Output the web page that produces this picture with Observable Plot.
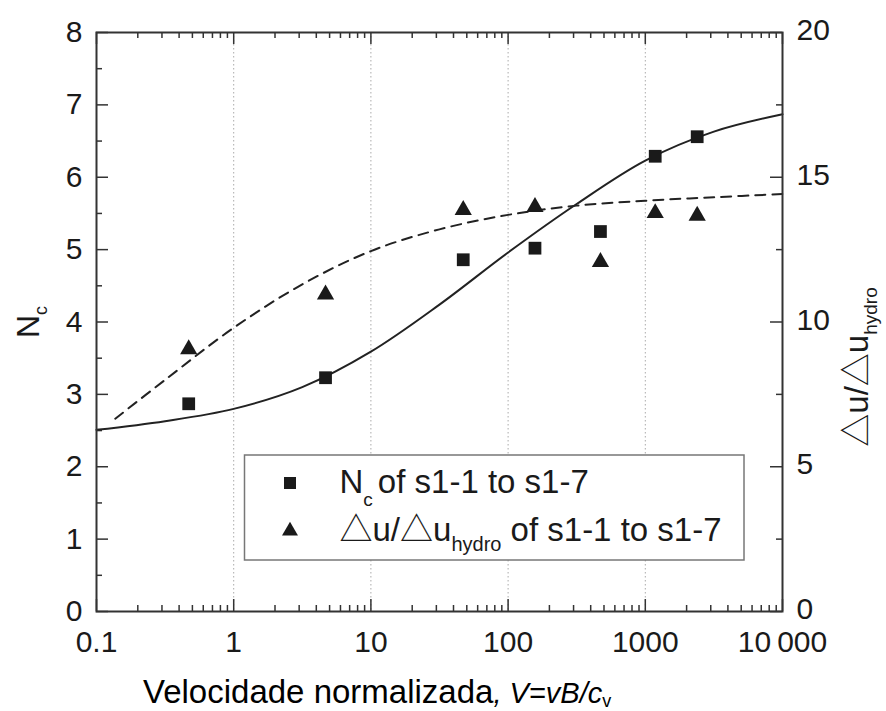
<!DOCTYPE html>
<html><head><meta charset="utf-8">
<script src="https://cdn.jsdelivr.net/npm/d3@7"></script>
<script src="https://cdn.jsdelivr.net/npm/@observablehq/plot@0.6"></script>
<style>
body{margin:0;background:#fff;}
#chart{position:relative;width:886px;height:711px;}
</style></head><body><div id="chart"></div>
<script>
// ---- data ----
const velocity = [0.47, 4.67, 47.1, 157, 471, 1181, 2389];
const ncValues = [2.87, 3.23, 4.86, 5.02, 5.25, 6.29, 6.56];
const duValues = [9.06, 10.95, 13.87, 13.97, 12.07, 13.76, 13.67];
const ncFitX = [0.1, 0.316, 1, 3.16, 10, 31.6, 100, 316, 1000, 3162, 10000];
const ncFitY = [2.51, 2.63, 2.80, 3.10, 3.59, 4.24, 4.96, 5.63, 6.23, 6.63, 6.87];
const duFitX = [0.137, 0.316, 1, 3.16, 10, 31.6, 100, 316, 1000, 3162, 10000];
const duFitY = [6.66, 8.0, 9.8, 11.3, 12.45, 13.2, 13.7, 14.02, 14.19, 14.31, 14.42];
const xTicks = [0.1, 1, 10, 100, 1000, 10000];
const xTickLabels = ["0.1", "1", "10", "100", "1000", "10\u2009000"];
const gridX = [1, 10, 100, 1000];
const leftTicks = [0, 1, 2, 3, 4, 5, 6, 7, 8];
const leftMinor = [0.5, 1.5, 2.5, 3.5, 4.5, 5.5, 6.5, 7.5];
const rightTicks = [0, 5, 10, 15, 20];
const rightMinor = [2.5, 7.5, 12.5, 17.5];
const leftMax = 8, rightMax = 20;

// ---- layout ----
const W = 886, H = 711, mL = 96, mR = 104, mT = 32, mB = 100;
const plotW = W - mL - mR, plotH = H - mT - mB;
const ratio = rightMax / leftMax;
const ink = "#1a1a1a";
const font = "'Liberation Sans', Arial, sans-serif";
const triFont = "'Noto Sans CJK SC', 'DejaVu Sans', sans-serif";
const tickFs = 30;

const xMinor = [];
for (let k = -1; k < 4; k++) for (let m = 2; m <= 9; m++) xMinor.push(m * Math.pow(10, k));

const points = velocity.map((v, i) => ({v, nc: ncValues[i], du: duValues[i]}));
const ncFit = ncFitX.map((x, i) => ({x, y: ncFitY[i]}));
const duFit = duFitX.map((x, i) => ({x, y: duFitY[i]}));
const tickLabel = new Map(xTicks.map((t, i) => [t, xTickLabels[i]]));

const svg = Plot.plot({
  width: W, height: H,
  marginLeft: mL, marginRight: mR, marginTop: mT, marginBottom: mB,
  style: {fontFamily: font, color: ink, background: "#fff"},
  x: {type: "log", domain: [0.1, 10000]},
  y: {domain: [0, leftMax]},
  marks: [
    Plot.ruleX(gridX, {x: d => d, stroke: "#aaa", strokeWidth: 1, strokeDasharray: "1.5,2.5"}),
    // inward ticks, bottom & top
    Plot.tickX(xTicks, {x: d => d, insetTop: plotH - 12, stroke: "#333", strokeWidth: 1.5}),
    Plot.tickX(xMinor, {x: d => d, insetTop: plotH - 6, stroke: "#333", strokeWidth: 1.5}),
    Plot.tickX(xTicks, {x: d => d, insetBottom: plotH - 12, stroke: "#333", strokeWidth: 1.5}),
    Plot.tickX(xMinor, {x: d => d, insetBottom: plotH - 6, stroke: "#333", strokeWidth: 1.5}),
    // inward ticks, left
    Plot.tickY(leftTicks, {y: d => d, insetRight: plotW - 12, stroke: "#333", strokeWidth: 1.5}),
    Plot.tickY(leftMinor, {y: d => d, insetRight: plotW - 6, stroke: "#333", strokeWidth: 1.5}),
    // inward ticks, right
    Plot.tickY(rightTicks, {y: d => d / ratio, insetLeft: plotW - 12, stroke: "#333", strokeWidth: 1.5}),
    Plot.tickY(rightMinor, {y: d => d / ratio, insetLeft: plotW - 6, stroke: "#333", strokeWidth: 1.5}),
    // tick labels
    Plot.axisX(xTicks, {anchor: "bottom", tickSize: 0, tickPadding: 19, fontSize: tickFs, label: null,
      tickFormat: d => tickLabel.get(d)}),
    Plot.axisY(leftTicks, {anchor: "left", tickSize: 0, tickPadding: 14, fontSize: tickFs, label: null,
      tickFormat: d => String(d)}),
    Plot.axisY(rightTicks.map(d => d / ratio), {anchor: "right", tickSize: 0, tickPadding: 14, fontSize: tickFs,
      label: null, dy: -2, tickFormat: d => String(Math.round(d * ratio))}),
    // fits
    Plot.line(ncFit, {x: "x", y: "y", stroke: "#222", strokeWidth: 2, curve: "catmull-rom"}),
    Plot.line(duFit, {x: "x", y: d => d.y / ratio, stroke: "#222", strokeWidth: 2,
      strokeDasharray: "10,7", curve: "catmull-rom"}),
    // data
    Plot.dot(points, {x: "v", y: "nc", symbol: "square", r: 7.2, fill: ink, stroke: "none"}),
    Plot.dot(points, {x: "v", y: d => d.du / ratio, symbol: "triangle", r: 6.4, fill: ink, stroke: "none"}),
    Plot.frame({stroke: "#333", strokeWidth: 2})
  ]
});
document.getElementById("chart").appendChild(svg);

// ---- annotations: axis titles and legend ----
const s = d3.select(svg);

// left axis title N_c
const nl = s.append("text").attr("transform", "translate(39,322) rotate(-90)")
  .attr("text-anchor", "middle").attr("font-family", font).attr("fill", ink);
nl.append("tspan").attr("font-size", 32).text("N");
nl.append("tspan").attr("font-size", 18).attr("dy", 8).text("c");

// right axis title
const rl = s.append("text").attr("transform", "translate(868,367) rotate(-90)")
  .attr("text-anchor", "middle").attr("font-family", font).attr("fill", ink);
rl.append("tspan").attr("font-size", 33).attr("font-family", triFont).text("\u25B3");
rl.append("tspan").attr("font-size", 33).text("u/");
rl.append("tspan").attr("font-size", 33).attr("font-family", triFont).text("\u25B3");
rl.append("tspan").attr("font-size", 33).text("u");
rl.append("tspan").attr("font-size", 19).attr("dy", 9).text("hydro");

// x axis title
const xl = s.append("text").attr("x", 143).attr("y", 703).attr("text-anchor", "start")
  .attr("font-family", font).attr("fill", "#000");
xl.append("tspan").attr("font-size", 33).text("Velocidade normalizada");
xl.append("tspan").attr("font-size", 29).attr("font-style", "italic").text(", V=vB/c");
xl.append("tspan").attr("font-size", 18).attr("dy", 4).text("v");

// legend
const lg = s.append("g").attr("text-anchor", "start");
lg.append("rect").attr("x", 244.5).attr("y", 455).attr("width", 499.5).attr("height", 105)
  .attr("fill", "#fff").attr("stroke", "#777").attr("stroke-width", 1.5);
lg.append("path").attr("transform", "translate(290,483)")
  .attr("d", d3.symbol(d3.symbolSquare, 12 * 12)()).attr("fill", ink);
lg.append("path").attr("transform", "translate(290,531)")
  .attr("d", d3.symbol(d3.symbolTriangle, 110)()).attr("fill", ink);
const r1 = lg.append("text").attr("x", 339.5).attr("y", 493).attr("font-family", font).attr("fill", ink);
r1.append("tspan").attr("font-size", 33).text("N");
r1.append("tspan").attr("font-size", 19).attr("dy", 13).text("c");
r1.append("tspan").attr("font-size", 33).attr("dy", -13).attr("dx", 5).text("of s1-1 to s1-7");
const r2 = lg.append("text").attr("x", 339.5).attr("y", 541).attr("font-family", font).attr("fill", ink);
r2.append("tspan").attr("font-size", 33).attr("font-family", triFont).text("\u25B3");
r2.append("tspan").attr("font-size", 33).text("u/");
r2.append("tspan").attr("font-size", 33).attr("font-family", triFont).text("\u25B3");
r2.append("tspan").attr("font-size", 33).text("u");
r2.append("tspan").attr("font-size", 20).attr("dy", 10).text("hydro");
r2.append("tspan").attr("font-size", 33).attr("dy", -10).text(" of s1-1 to s1-7");
</script></body></html>
